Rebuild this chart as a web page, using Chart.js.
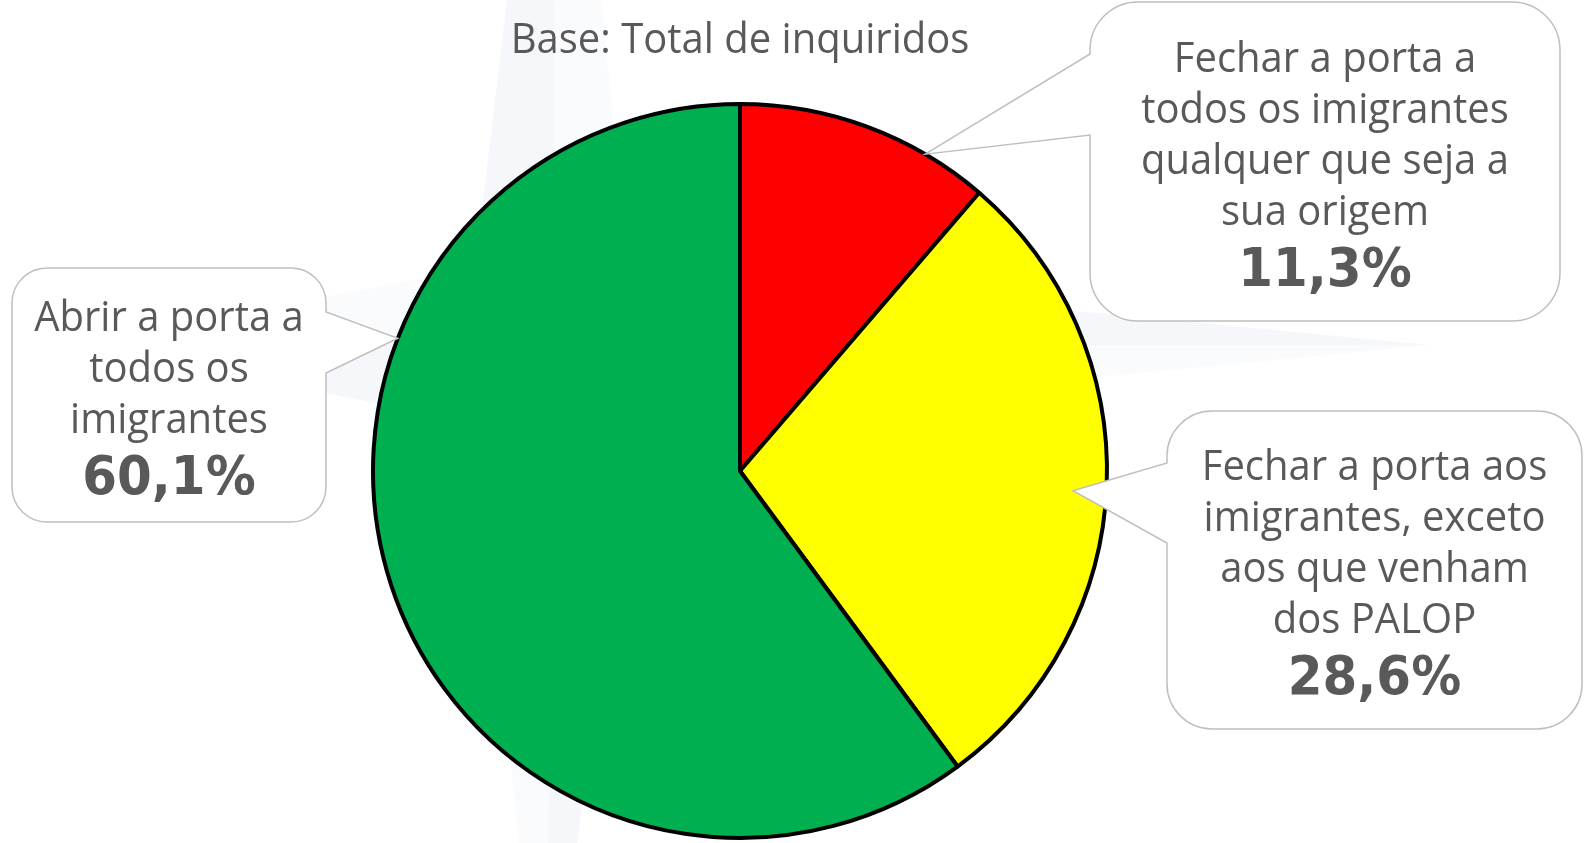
<!DOCTYPE html>
<html>
<head>
<meta charset="utf-8">
<script src="https://cdn.jsdelivr.net/npm/chart.js@4.4.1/dist/chart.umd.min.js"></script>
<style>
  html, body { margin: 0; padding: 0; background: #fff; }
  #chart { display: block; }
</style>
</head>
<body>
<canvas id="chart" width="1585" height="843"></canvas>
<script>
const title = 'Base: Total de inquiridos';
const categories = [
  'Fechar a porta a todos os imigrantes qualquer que seja a sua origem',
  'Fechar a porta aos imigrantes, exceto aos que venham dos PALOP',
  'Abrir a porta a todos os imigrantes'
];
const values = [11.3, 28.6, 60.1];
const sliceColors = ['#ff0000', '#ffff00', '#00b050'];
const labelLines = [
  ['Fechar a porta a', 'todos os imigrantes', 'qualquer que seja a', 'sua origem'],
  ['Fechar a porta aos', 'imigrantes, exceto', 'aos que venham', 'dos PALOP'],
  ['Abrir a porta a', 'todos os', 'imigrantes']
];
const valueLabels = values.map(v => v.toFixed(1).replace('.', ',') + '%');

// callout boxes; "at" is how far along the slice the pointer tip sits, "depth" how far out
const callouts = [
  { x: 1090, y: 2, w: 470, h: 319, r: 48, side: 'left', base: [54, 135], at: 0.745, depth: 1.0 },
  { x: 1167, y: 411, w: 415, h: 318, r: 45, side: 'left', base: [463, 543], at: 0.512, depth: 0.909 },
  { x: 12, y: 268, w: 314, h: 254, r: 35, side: 'right', base: [312, 373], at: 0.682, depth: 1.0 }
];

const textColor = '#595959';
const regularFont = '40px "Open Sans"';
const boldFont = 'bold 50px "DejaVu Sans"';

// text in the original is a bit taller than Open Sans, so stretch it slightly
function tallText(ctx, str, x, y) {
  ctx.save();
  ctx.translate(x, y);
  ctx.scale(1, 1.07);
  ctx.fillText(str, 0, 0);
  ctx.restore();
}

function calloutPath(ctx, c, tip) {
  const { x, y, w, h, r } = c;
  ctx.beginPath();
  ctx.moveTo(x + r, y);
  ctx.lineTo(x + w - r, y);
  ctx.arcTo(x + w, y, x + w, y + r, r);
  if (c.side === 'right') {
    ctx.lineTo(x + w, c.base[0]);
    ctx.lineTo(tip.x, tip.y);
    ctx.lineTo(x + w, c.base[1]);
  }
  ctx.lineTo(x + w, y + h - r);
  ctx.arcTo(x + w, y + h, x + w - r, y + h, r);
  ctx.lineTo(x + r, y + h);
  ctx.arcTo(x, y + h, x, y + h - r, r);
  if (c.side === 'left') {
    ctx.lineTo(x, c.base[1]);
    ctx.lineTo(tip.x, tip.y);
    ctx.lineTo(x, c.base[0]);
  }
  ctx.lineTo(x, y + r);
  ctx.arcTo(x, y, x + r, y, r);
  ctx.closePath();
}

// faint compass star behind everything
const watermark = {
  id: 'watermark',
  beforeDatasetsDraw(chart) {
    const ctx = chart.ctx;
    const cx = 552, cy = 345, inner = 77;
    const tips = [[557, -420], [1430, 345], [546, 1100], [73, 345]];
    const diag = [[1, -1], [1, 1], [-1, 1], [-1, -1]];
    ctx.save();
    tips.forEach((t, i) => {
      const a = diag[(i + 3) % 4], b = diag[i];
      ctx.fillStyle = '#f5f7fb';
      ctx.beginPath();
      ctx.moveTo(cx, cy);
      ctx.lineTo(cx + a[0] * inner, cy + a[1] * inner);
      ctx.lineTo(t[0], t[1]);
      ctx.closePath();
      ctx.fill();
      ctx.fillStyle = '#fafbfd';
      ctx.beginPath();
      ctx.moveTo(cx, cy);
      ctx.lineTo(t[0], t[1]);
      ctx.lineTo(cx + b[0] * inner, cy + b[1] * inner);
      ctx.closePath();
      ctx.fill();
    });
    ctx.restore();
  }
};

const calloutsPlugin = {
  id: 'callouts',
  afterDatasetsDraw(chart) {
    const ctx = chart.ctx;
    const meta = chart.getDatasetMeta(0);
    ctx.save();
    ctx.fillStyle = textColor;
    ctx.font = regularFont;
    ctx.textAlign = 'center';
    ctx.textBaseline = 'alphabetic';
    tallText(ctx, title, chart.chartArea.left + chart.chartArea.width / 2, 53);

    callouts.forEach((c, i) => {
      const arc = meta.data[i];
      const p = arc.getProps(['x', 'y', 'startAngle', 'endAngle', 'outerRadius'], true);
      const a = p.startAngle + c.at * (p.endAngle - p.startAngle);
      const tip = {
        x: p.x + Math.cos(a) * p.outerRadius * c.depth,
        y: p.y + Math.sin(a) * p.outerRadius * c.depth
      };
      calloutPath(ctx, c, tip);
      ctx.fillStyle = '#ffffff';
      ctx.fill();
      ctx.lineWidth = 1.5;
      ctx.strokeStyle = '#bfbfbf';
      ctx.stroke();

      const lines = labelLines[i];
      const lineGap = 51, boldGap = 61, capTop = 30;
      const blockH = capTop + lineGap * (lines.length - 1) + boldGap;
      const base = c.y + c.h / 2 + 2 - blockH / 2 + capTop;
      const mid = c.x + c.w / 2;
      ctx.fillStyle = textColor;
      ctx.font = regularFont;
      lines.forEach((l, k) => tallText(ctx, l, mid, base + k * lineGap));
      ctx.font = boldFont;
      tallText(ctx, valueLabels[i], mid, base + (lines.length - 1) * lineGap + boldGap);
    });
    ctx.restore();
  }
};

new Chart(document.getElementById('chart'), {
  type: 'pie',
  data: {
    labels: categories,
    datasets: [{
      data: values,
      backgroundColor: sliceColors,
      borderColor: '#000000',
      borderWidth: 4,
      radius: 367
    }]
  },
  options: {
    responsive: false,
    animation: false,
    events: [],
    layout: {
      padding: { left: 0, right: 105, top: 99, bottom: 0 }
    },
    plugins: {
      legend: { display: false },
      tooltip: { enabled: false }
    }
  },
  plugins: [watermark, calloutsPlugin]
});
</script>
</body>
</html>
